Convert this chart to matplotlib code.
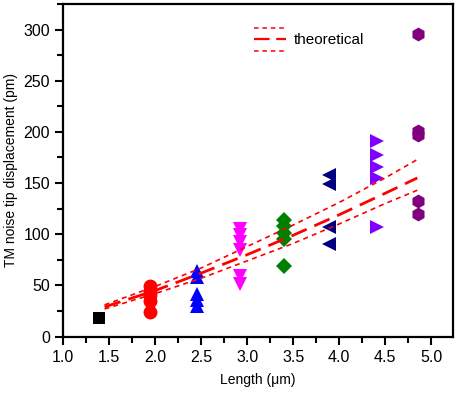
import matplotlib
matplotlib.use("Agg")
import matplotlib.pyplot as plt
from matplotlib.lines import Line2D
from matplotlib.legend_handler import HandlerBase
from matplotlib.ticker import MultipleLocator

plt.rcParams['font.family'] = ['Liberation Sans', 'DejaVu Sans']

# Measured data groups (length in um, displacement in pm)
sq_x = [1.39]; sq_y = [18]
circ_x = [1.94] * 5; circ_y = [49, 45, 41, 35, 24]
tup_x = [2.45] * 5; tup_y = [64, 58, 42, 36, 30]
tdn_x = [2.92] * 6; tdn_y = [105, 99, 92, 85, 59, 51]
dia_x = [3.40] * 5; dia_y = [114, 108, 101, 95, 69]
tlf_x = [3.89] * 4; tlf_y = [158, 149, 107, 90]
trt_x = [4.41] * 5; trt_y = [191, 177, 166, 155, 107]
hex_x = [4.86] * 5; hex_y = [296, 201, 197, 132, 120]

# Theoretical curves
th_x = [1.45, 2.0, 2.5, 3.0, 3.5, 4.0, 4.5, 4.85]
th_mid = [29, 45, 62, 80, 99, 119, 140, 155]
th_up = [31, 49, 67, 88, 109, 131, 155, 173]
th_lo = [27, 42, 57, 74, 91, 110, 130, 143]

fig = plt.figure(figsize=(4.61, 3.96), dpi=100)
ax = fig.add_axes([0.137, 0.150, 0.845, 0.840])

ms = 10
groups = [
    (sq_x, sq_y, 's', 'black'),
    (circ_x, circ_y, 'o', 'red'),
    (tup_x, tup_y, '^', 'blue'),
    (tdn_x, tdn_y, 'v', 'magenta'),
    (dia_x, dia_y, 'D', 'green'),
    (tlf_x, tlf_y, '<', 'navy'),
    (trt_x, trt_y, '>', '#8000FF'),
    (hex_x, hex_y, 'h', 'purple'),
]
for gx, gy, m, c in groups:
    msz = ms - 2 if m in ('D', 's') else ms
    ax.plot(gx, gy, linestyle='none', marker=m, color=c, markersize=msz,
            markeredgewidth=0)

ax.plot(th_x, th_up, color='red', lw=1.2, dashes=(3, 2.5))
ax.plot(th_x, th_lo, color='red', lw=1.2, dashes=(3, 2.5))
ax.plot(th_x, th_mid, color='red', lw=2.0, dashes=(6, 3))


class ThreeLineHandler(HandlerBase):
    def create_artists(self, legend, orig_handle, xdescent, ydescent,
                       width, height, fontsize, trans):
        arts = []
        yc = height / 2 - ydescent
        off = 0.75 * fontsize
        for dy, lw, d in [(off, 1.1, (3, 2.5)), (0, 1.6, (7, 3)),
                          (-off, 1.1, (3, 2.5))]:
            l = Line2D([-xdescent, -xdescent + width], [yc + dy, yc + dy],
                       color='red', lw=lw, dashes=d)
            l.set_transform(trans)
            arts.append(l)
        return arts


proxy = Line2D([], [], color='red')
ax.legend([proxy], ['theoretical'], handler_map={Line2D: ThreeLineHandler()},
          loc='upper left', bbox_to_anchor=(0.455, 0.965), frameon=False,
          fontsize=11, handlelength=2.1, handletextpad=0.5, handleheight=1.6)

ax.set_xlim(1.0, 5.235)
ax.set_ylim(0, 325)
ax.xaxis.set_major_locator(MultipleLocator(0.5))
ax.xaxis.set_minor_locator(MultipleLocator(0.25))
ax.yaxis.set_major_locator(MultipleLocator(50))
ax.yaxis.set_minor_locator(MultipleLocator(25))
ax.tick_params(which='both', direction='out', top=False, right=False,
               width=1.5, labelsize=11.5)
ax.tick_params(which='major', length=6)
ax.tick_params(which='minor', length=4)
for s in ax.spines.values():
    s.set_linewidth(1.6)

ax.set_xlabel('Length (\u03bcm)', fontsize=10, labelpad=6)
ax.set_ylabel('TM noise tip displacement (pm)', fontsize=10)

fig.savefig('out.png', dpi=100)
